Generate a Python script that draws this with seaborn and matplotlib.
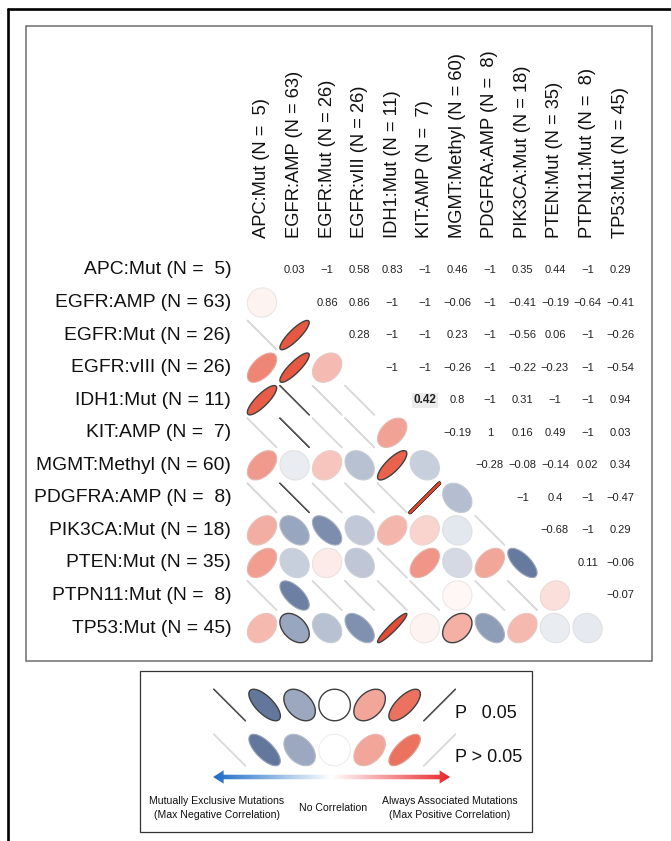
import numpy as np
import pandas as pd
import matplotlib
matplotlib.use("Agg")
import matplotlib.pyplot as plt
import seaborn as sns
from matplotlib.patches import Polygon, Rectangle
from matplotlib.lines import Line2D
from matplotlib.colors import LinearSegmentedColormap, ListedColormap, to_rgb

# ---------------- data ----------------
genes = ["APC:Mut", "EGFR:AMP", "EGFR:Mut", "EGFR:vIII", "IDH1:Mut", "KIT:AMP",
         "MGMT:Methyl", "PDGFRA:AMP", "PIK3CA:Mut", "PTEN:Mut", "PTPN11:Mut", "TP53:Mut"]
counts = [5, 63, 26, 26, 11, 7, 60, 8, 18, 35, 8, 45]

# upper triangle, row by row (columns to the right of the diagonal)
upper_rows = [
    [0.03, -1, 0.58, 0.83, -1, 0.46, -1, 0.35, 0.44, -1, 0.29],
    [0.86, 0.86, -1, -1, -0.06, -1, -0.41, -0.19, -0.64, -0.41],
    [0.28, -1, -1, 0.23, -1, -0.56, 0.06, -1, -0.26],
    [-1, -1, -0.26, -1, -0.22, -0.23, -1, -0.54],
    [0.42, 0.8, -1, 0.31, -1, -1, 0.94],
    [-0.19, 1, 0.16, 0.49, -1, 0.03],
    [-0.28, -0.08, -0.14, 0.02, 0.34],
    [-1, 0.4, -1, -0.47],
    [-0.68, -1, 0.29],
    [0.11, -0.06],
    [-0.07],
]

# pairs with P <= 0.05 (outlined in the lower triangle)
sig_pairs = [("EGFR:Mut", "EGFR:AMP"), ("EGFR:vIII", "EGFR:AMP"), ("IDH1:Mut", "APC:Mut"),
             ("IDH1:Mut", "EGFR:AMP"), ("KIT:AMP", "EGFR:AMP"), ("MGMT:Methyl", "IDH1:Mut"),
             ("PDGFRA:AMP", "EGFR:AMP"), ("PDGFRA:AMP", "KIT:AMP"), ("TP53:Mut", "EGFR:AMP"),
             ("TP53:Mut", "IDH1:Mut"), ("TP53:Mut", "MGMT:Methyl")]
highlight = ("IDH1:Mut", "KIT:AMP")

legend_r = [-1, -0.7, -0.4, 0, 0.4, 0.7, 1]

# ---------------- build matrix ----------------
n = len(genes)
corr = np.full((n, n), np.nan)
for i, row in enumerate(upper_rows):
    for k, v in enumerate(row):
        j = i + 1 + k
        corr[i, j] = v
        corr[j, i] = v

labels = [f"{g} (N = {c:2d})" for g, c in zip(genes, counts)]
df = pd.DataFrame(corr, index=labels, columns=labels)

annot = np.empty((n, n), dtype=object)
for i in range(n):
    for j in range(n):
        v = corr[i, j]
        annot[i, j] = "" if np.isnan(v) else f"{v:g}".replace("-", "\u2212")

POS = to_rgb("#e4432a")
NEG = to_rgb("#2f4a7c")


def corr_color(r):
    end = POS if r > 0 else NEG
    t = abs(r) ** 0.8
    return tuple(1 - t * (1 - c) for c in end)


def ellipse_xy(r, scale=0.9, npts=120):
    k = np.linspace(0, 2 * np.pi, npts)
    d = np.arccos(np.clip(r, -1, 1))
    return np.cos(k + d / 2) / 2 * scale, np.cos(k - d / 2) / 2 * scale


def draw_mark(ax, cx, cy, r, sig, red_line=True):
    ex, ey = ellipse_xy(r)
    pts = np.column_stack([cx + ex, cy - ey])
    if abs(r) >= 0.999:
        if r > 0 and red_line:
            ax.plot(pts[:, 0], pts[:, 1], color="#3a3a3a" if sig else "#d9d9d9",
                    lw=2.6 if sig else 1.1, solid_capstyle="round")
            ax.plot(pts[:, 0], pts[:, 1], color=corr_color(r), lw=1.4, solid_capstyle="round")
        else:
            ax.plot(pts[:, 0], pts[:, 1], color="#555555" if sig else "#dadada",
                    lw=1.0 if sig else 1.1, solid_capstyle="round")
        return
    fc = corr_color(r)
    if sig:
        ec, lw = "#404040", 1.0
    else:
        ec = tuple(0.55 * a + 0.45 * b for a, b in zip(fc, to_rgb("#d6d6d6")))
        lw = 0.8
    ax.add_patch(Polygon(pts, closed=True, facecolor=fc, edgecolor=ec, lw=lw))


# ---------------- figure ----------------
sns.set_theme(style="white")
plt.rcParams["font.family"] = ["Liberation Sans", "DejaVu Sans"]

W, H = 671, 841
fig = plt.figure(figsize=(W / 100, H / 100), dpi=100)
fig.patch.set_facecolor("white")

cell = 32.55
x0, y0 = 262 - cell / 2, 270 - cell / 2
ax = fig.add_axes([x0 / W, 1 - (y0 + n * cell) / H, n * cell / W, n * cell / H])

mask = np.tril(np.ones((n, n), dtype=bool))
sns.heatmap(df, mask=mask, cmap=ListedColormap(["white"]), cbar=False,
            annot=annot, fmt="", annot_kws={"size": 8, "color": "#222222"},
            xticklabels=labels, yticklabels=labels, ax=ax)

hi, hj = genes.index(highlight[0]), genes.index(highlight[1])
for t in ax.texts:
    x, y = t.get_position()
    if int(y) == hi and int(x) == hj:
        t.set_fontweight("bold")
        t.set_fontsize(8.5)
        t.set_bbox(dict(facecolor="#ececec", edgecolor="none", pad=1.2))

sig_set = {(genes.index(a), genes.index(b)) for a, b in sig_pairs}
for i in range(n):
    for j in range(i):
        draw_mark(ax, j + 0.5, i + 0.5, corr[i, j], (i, j) in sig_set)

ax.set_xlim(0, n)
ax.set_ylim(n, 0)
ax.xaxis.tick_top()
ax.set_xticklabels(labels, rotation=90, fontsize=13.2, color="#111111")
ax.set_yticklabels(labels, rotation=0, fontsize=13.9, color="#111111")
ax.tick_params(axis="x", length=0, pad=11.5)
ax.tick_params(axis="y", length=0, pad=10.5)
ax.set_xlabel("")
ax.set_ylabel("")

# ---------------- frames ----------------
fig.add_artist(Line2D([8 / W, 1], [1 - 9 / H, 1 - 9 / H], transform=fig.transFigure,
                      color="black", lw=1.9))
fig.add_artist(Line2D([8 / W, 8 / W], [1 - 9 / H, 0], transform=fig.transFigure,
                      color="black", lw=1.9))
fig.add_artist(Rectangle((25.5 / W, 1 - 661 / H), (652 - 25.5) / W, (661 - 25.7) / H,
                         transform=fig.transFigure, fill=False, edgecolor="#6e6e6e", lw=1.1))
fig.add_artist(Rectangle((140 / W, 1 - 832 / H), (532 - 140) / W, (832 - 670.7) / H,
                         transform=fig.transFigure, fill=False, edgecolor="#333333", lw=0.9))

# ---------------- legend ----------------
lc = 35.0
lx0, ly0 = 229.6 - lc / 2, 705 - lc / 2
lh = (832 - ly0) / lc
lax = fig.add_axes([lx0 / W, 1 - 832 / H, 7 * lc / W, (832 - ly0) / H])
row_y = [0.5, 0.5 + 45 / lc]
for ry, sig in zip(row_y, [True, False]):
    for k, r in enumerate(legend_r):
        draw_mark(lax, k + 0.5, ry, r, sig, red_line=False)

lax.text(6.95, row_y[0] + 0.25, "P   0.05", fontsize=13, ha="left", va="center", color="#111111")
lax.text(6.95, row_y[1] + 0.2, "P > 0.05", fontsize=13, ha="left", va="center", color="#111111")

# gradient double arrow
ay = (777 - ly0) / lc
ax0, ax1 = 0.03, 6.8
sh, hh, hl = 0.065, 0.19, 0.3
verts = [(ax0, ay), (ax0 + hl, ay - hh), (ax0 + hl, ay - sh), (ax1 - hl, ay - sh),
         (ax1 - hl, ay - hh), (ax1, ay), (ax1 - hl, ay + hh), (ax1 - hl, ay + sh),
         (ax0 + hl, ay + sh), (ax0 + hl, ay + hh)]
arrow_cmap = LinearSegmentedColormap.from_list("arr", ["#1b6cc6", "#ffffff", "#e8272b"])
grad = np.linspace(0, 1, 256).reshape(1, -1)
im = lax.imshow(grad, cmap=arrow_cmap, extent=[ax0, ax1, ay + hh, ay - hh], aspect="auto")
arrow = Polygon(verts, closed=True, facecolor="none", edgecolor="none")
lax.add_patch(arrow)
im.set_clip_path(arrow)

ty = (808 - ly0) / lc
lax.text((216.5 - lx0) / lc, ty, "Mutually Exclusive Mutations\n(Max Negative Correlation)",
         fontsize=7.6, ha="center", va="center", linespacing=1.4, color="#111111")
lax.text((333 - lx0) / lc, ty, "No Correlation", fontsize=7.6, ha="center", va="center",
         color="#111111")
lax.text((450 - lx0) / lc, ty, "Always Associated Mutations\n(Max Positive Correlation)",
         fontsize=7.6, ha="center", va="center", linespacing=1.4, color="#111111")

lax.set_xlim(0, 7)
lax.set_ylim(lh, 0)
lax.axis("off")

fig.savefig("out.png", dpi=100)
